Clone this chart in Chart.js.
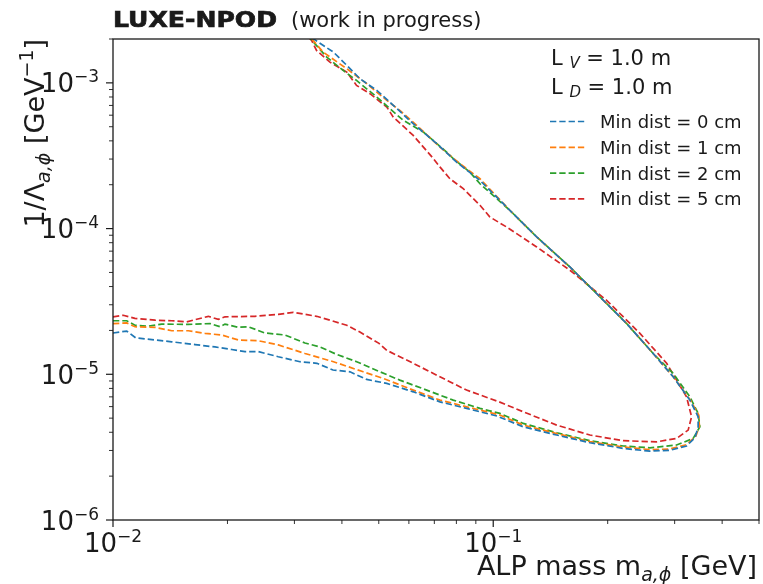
<!DOCTYPE html>
<html>
<head>
<meta charset="utf-8">
<script src="https://cdn.jsdelivr.net/npm/chart.js@4.4.1/dist/chart.umd.min.js"></script>
<style>
  html, body { margin: 0; padding: 0; background: #fff; }
  #chartCanvas { display: block; }
</style>
</head>
<body>
<canvas id="chartCanvas" width="763" height="584"></canvas>
<script>
// contour curves: lower branch left->right, then upper branch back to the top edge
const massD0 = [0.0100, 0.01087, 0.01147, 0.01427, 0.01643, 0.01854, 0.02052, 0.02224, 0.02411, 0.02721, 0.03103, 0.03439, 0.03789, 0.04201, 0.04647, 0.05246, 0.06162, 0.07242, 0.08511, 0.1023, 0.1199, 0.1468, 0.1796, 0.2197, 0.2582, 0.2914, 0.3224, 0.3391, 0.3459, 0.3459, 0.3290, 0.2974, 0.2634, 0.2243, 0.1908, 0.1591, 0.1301, 0.1106, 0.0923, 0.0801, 0.0710, 0.0616, 0.0546, 0.0494, 0.0446, 0.0412, 0.0380, 0.0336, 0.0310];
const couplingD0 = [1.92e-5, 1.98e-5, 1.78e-5, 1.67e-5, 1.60e-5, 1.54e-5, 1.48e-5, 1.43e-5, 1.43e-5, 1.32e-5, 1.22e-5, 1.19e-5, 1.07e-5, 1.04e-5, 9.22e-6, 8.66e-6, 7.58e-6, 6.47e-6, 5.83e-6, 5.17e-6, 4.36e-6, 3.83e-6, 3.39e-6, 3.10e-6, 2.97e-6, 3.01e-6, 3.22e-6, 3.67e-6, 4.34e-6, 5.11e-6, 6.65e-6, 9.61e-6, 1.39e-5, 2.23e-5, 3.40e-5, 5.45e-5, 8.76e-5, 1.335e-4, 2.14e-4, 2.86e-4, 3.83e-4, 5.25e-4, 7.01e-4, 8.88e-4, 1.068e-3, 1.318e-3, 1.625e-3, 2.01e-3, 2.48e-3];

const massD1 = [0.0100, 0.01087, 0.01142, 0.01290, 0.01427, 0.01578, 0.01746, 0.01931, 0.02136, 0.02411, 0.02721, 0.03198, 0.0380, 0.04551, 0.05137, 0.06162, 0.07242, 0.08511, 0.1041, 0.1199, 0.1468, 0.1796, 0.2197, 0.2582, 0.2914, 0.3224, 0.3412, 0.3485, 0.3470, 0.3300, 0.2974, 0.2634, 0.2243, 0.1908, 0.1591, 0.1301, 0.1106, 0.0923, 0.0817, 0.0724, 0.0629, 0.0568, 0.0525, 0.0465, 0.0412, 0.0357, 0.0333, 0.0307];
const couplingD1 = [2.23e-5, 2.25e-5, 2.12e-5, 2.10e-5, 1.99e-5, 1.99e-5, 1.91e-5, 1.86e-5, 1.72e-5, 1.70e-5, 1.59e-5, 1.39e-5, 1.22e-5, 1.04e-5, 9.37e-6, 7.79e-6, 6.65e-6, 5.98e-6, 5.25e-6, 4.48e-6, 3.92e-6, 3.45e-6, 3.17e-6, 3.04e-6, 3.07e-6, 3.29e-6, 3.77e-6, 4.41e-6, 5.25e-6, 6.65e-6, 9.61e-6, 1.39e-5, 2.23e-5, 3.40e-5, 5.45e-5, 8.76e-5, 1.335e-4, 2.20e-4, 2.79e-4, 3.63e-4, 5.11e-4, 6.47e-4, 7.58e-4, 9.87e-4, 1.25e-3, 1.625e-3, 2.01e-3, 2.48e-3];

const massD2 = [0.0100, 0.01087, 0.01142, 0.01238, 0.01343, 0.01578, 0.01799, 0.01911, 0.01970, 0.02136, 0.02269, 0.02510, 0.02833, 0.03198, 0.0350, 0.03874, 0.04374, 0.05036, 0.0568, 0.06682, 0.07847, 0.0923, 0.1041, 0.1199, 0.1468, 0.1796, 0.2197, 0.2582, 0.3036, 0.3356, 0.3495, 0.3459, 0.3290, 0.2974, 0.2634, 0.2243, 0.1908, 0.1591, 0.1301, 0.1106, 0.0923, 0.0868, 0.0785, 0.0754, 0.0655, 0.0580, 0.0535, 0.0494, 0.0437, 0.0403, 0.0365, 0.0330, 0.0305];
const couplingD2 = [2.33e-5, 2.33e-5, 2.17e-5, 2.14e-5, 2.21e-5, 2.20e-5, 2.23e-5, 2.12e-5, 2.21e-5, 2.10e-5, 2.12e-5, 1.92e-5, 1.86e-5, 1.64e-5, 1.54e-5, 1.37e-5, 1.22e-5, 1.04e-5, 9.12e-6, 7.79e-6, 6.65e-6, 5.83e-6, 5.39e-6, 4.60e-6, 3.97e-6, 3.50e-6, 3.22e-6, 3.13e-6, 3.27e-6, 3.63e-6, 4.36e-6, 5.39e-6, 7.00e-6, 1.013e-5, 1.39e-5, 2.23e-5, 3.40e-5, 5.45e-5, 8.76e-5, 1.335e-4, 2.03e-4, 2.44e-4, 3.02e-4, 3.35e-4, 4.60e-4, 5.53e-4, 6.65e-4, 7.99e-4, 1.039e-3, 1.217e-3, 1.50e-3, 2.02e-3, 2.48e-3];

const massD5 = [0.0100, 0.01064, 0.01142, 0.01290, 0.01427, 0.01563, 0.01781, 0.01892, 0.01970, 0.02362, 0.02721, 0.02979, 0.03432, 0.03721, 0.0412, 0.0446, 0.05007, 0.0525, 0.0616, 0.0724, 0.0851, 0.1041, 0.1199, 0.1468, 0.1796, 0.2197, 0.2690, 0.3036, 0.3256, 0.3324, 0.3224, 0.3036, 0.2858, 0.2431, 0.1987, 0.1591, 0.1301, 0.1084, 0.0980, 0.0923, 0.0834, 0.0769, 0.0724, 0.0696, 0.0616, 0.0546, 0.0525, 0.0474, 0.0437, 0.0412, 0.0372, 0.0343, 0.0333, 0.0310];
const couplingD5 = [2.48e-5, 2.54e-5, 2.42e-5, 2.35e-5, 2.33e-5, 2.29e-5, 2.50e-5, 2.38e-5, 2.48e-5, 2.50e-5, 2.58e-5, 2.66e-5, 2.50e-5, 2.35e-5, 2.17e-5, 1.95e-5, 1.63e-5, 1.46e-5, 1.19e-5, 9.61e-6, 7.79e-6, 6.44e-6, 5.53e-6, 4.48e-6, 3.83e-6, 3.50e-6, 3.44e-6, 3.63e-6, 4.14e-6, 5.11e-6, 7.00e-6, 9.12e-6, 1.19e-5, 1.91e-5, 3.22e-5, 5.18e-5, 7.48e-5, 1.026e-4, 1.20e-4, 1.445e-4, 1.88e-4, 2.20e-4, 2.65e-4, 3.02e-4, 4.36e-4, 5.82e-4, 6.82e-4, 8.43e-4, 9.61e-4, 1.185e-3, 1.388e-3, 1.669e-3, 1.955e-3, 2.36e-3];

const seriesLabels = ["Min dist = 0 cm", "Min dist = 1 cm", "Min dist = 2 cm", "Min dist = 5 cm"];
const seriesColors = ["#1f77b4", "#ff7f0e", "#2ca02c", "#d62728"];

const xMajorTicks = [0.01, 0.1];
const xMinorTicks = [0.02, 0.03, 0.04, 0.05, 0.06, 0.07, 0.08, 0.09, 0.2, 0.3, 0.4, 0.5];
const xTickExponents = ["\u22122", "\u22121"];
const yMajorTicks = [1e-6, 1e-5, 1e-4, 1e-3];
const yMinorTicks = [2e-6, 3e-6, 4e-6, 5e-6, 6e-6, 7e-6, 8e-6, 9e-6, 2e-5, 3e-5, 4e-5, 5e-5, 6e-5, 7e-5, 8e-5, 9e-5, 2e-4, 3e-4, 4e-4, 5e-4, 6e-4, 7e-4, 8e-4, 9e-4, 2e-3];
const yTickExponents = ["\u22126", "\u22125", "\u22124", "\u22123"];

const FONT = '"DejaVu Sans", sans-serif';
const INK = "#1a1a1a";
const DASH = [6.3, 3];

function toPoints(mass, coupling) {
  return mass.map((m, i) => ({ x: m, y: coupling[i] }));
}

function runsWidth(ctx, runs) {
  let w = 0;
  for (const r of runs) {
    ctx.font = r.font;
    w += ctx.measureText(r.text).width;
  }
  return w;
}

function drawRuns(ctx, runs, x, y) {
  let cx = x;
  for (const r of runs) {
    ctx.font = r.font;
    ctx.fillText(r.text, cx, y + (r.dy || 0));
    cx += ctx.measureText(r.text).width;
  }
}

function powerRuns(exp) {
  return [
    { text: "10", font: "26px " + FONT },
    { text: exp, font: "17px " + FONT, dy: -10 },
  ];
}

const decorations = {
  id: "decorations",
  afterDraw(chart) {
    const ctx = chart.ctx;
    const area = chart.chartArea;
    const xs = chart.scales.x;
    const ys = chart.scales.y;
    ctx.save();
    ctx.fillStyle = INK;
    ctx.strokeStyle = INK;
    ctx.textBaseline = "alphabetic";

    // frame
    ctx.lineWidth = 1.3;
    ctx.strokeRect(area.left, area.top, area.right - area.left, area.bottom - area.top);

    // ticks
    const tick = (x1, y1, x2, y2, w) => {
      ctx.lineWidth = w;
      ctx.beginPath();
      ctx.moveTo(x1, y1);
      ctx.lineTo(x2, y2);
      ctx.stroke();
    };
    xMajorTicks.forEach((v) => { const p = xs.getPixelForValue(v); tick(p, area.bottom, p, area.bottom + 7, 1.2); });
    xMinorTicks.forEach((v) => { const p = xs.getPixelForValue(v); tick(p, area.bottom, p, area.bottom + 4, 0.9); });
    yMajorTicks.forEach((v) => { const p = ys.getPixelForValue(v); tick(area.left, p, area.left - 7, p, 1.2); });
    yMinorTicks.forEach((v) => { const p = ys.getPixelForValue(v); tick(area.left, p, area.left - 4, p, 0.9); });

    // tick labels
    xMajorTicks.forEach((v, i) => {
      const runs = powerRuns(xTickExponents[i]);
      const w = runsWidth(ctx, runs);
      drawRuns(ctx, runs, xs.getPixelForValue(v) - w / 2, area.bottom + 32);
    });
    yMajorTicks.forEach((v, i) => {
      const runs = powerRuns(yTickExponents[i]);
      const w = runsWidth(ctx, runs);
      drawRuns(ctx, runs, area.left - 14 - w, ys.getPixelForValue(v) + 9.5);
    });

    // x axis label, right aligned
    const xLabel = [
      { text: "ALP mass m", font: "27px " + FONT },
      { text: "a,\u03d5", font: "italic 19px " + FONT, dy: 6 },
      { text: " [GeV]", font: "27px " + FONT },
    ];
    drawRuns(ctx, xLabel, area.right - 2 - runsWidth(ctx, xLabel), 575);

    // y axis label, top aligned
    const yLabel = [
      { text: "1/\u039b", font: "27px " + FONT },
      { text: "a,\u03d5", font: "italic 19px " + FONT, dy: 6 },
      { text: " [GeV", font: "27px " + FONT },
      { text: "\u22121", font: "19px " + FONT, dy: -11 },
      { text: "]", font: "27px " + FONT },
    ];
    ctx.save();
    ctx.translate(44, area.top);
    ctx.rotate(-Math.PI / 2);
    drawRuns(ctx, yLabel, -runsWidth(ctx, yLabel), 0);
    ctx.restore();

    // title
    ctx.font = "bold 22px " + FONT;
    const tw = ctx.measureText("LUXE-NPOD").width;
    ctx.save();
    ctx.translate(113, 27);
    ctx.scale(164 / tw, 1);
    ctx.lineWidth = 0.7;
    ctx.fillText("LUXE-NPOD", 0, 0);
    ctx.strokeText("LUXE-NPOD", 0, 0);
    ctx.restore();
    ctx.font = "21px " + FONT;
    ctx.fillText("(work in progress)", 291, 27);

    // legend
    drawRuns(ctx, [
      { text: "L ", font: "21px " + FONT },
      { text: "V", font: "italic 15px " + FONT, dy: 3 },
      { text: " = 1.0 m", font: "21px " + FONT },
    ], 551, 65);
    drawRuns(ctx, [
      { text: "L ", font: "21px " + FONT },
      { text: "D", font: "italic 15px " + FONT, dy: 3 },
      { text: " = 1.0 m", font: "21px " + FONT },
    ], 551, 94);
    chart.data.datasets.forEach((ds, i) => {
      const cy = 121.5 + i * 25.8;
      ctx.strokeStyle = ds.borderColor;
      ctx.lineWidth = 1.7;
      ctx.setLineDash(DASH);
      ctx.beginPath();
      ctx.moveTo(550, cy);
      ctx.lineTo(586, cy);
      ctx.stroke();
      ctx.setLineDash([]);
      ctx.fillStyle = INK;
      ctx.font = "18px " + FONT;
      ctx.fillText(ds.label, 600, cy + 6.5);
    });
    ctx.restore();
  },
};

const curves = [
  [massD0, couplingD0],
  [massD1, couplingD1],
  [massD2, couplingD2],
  [massD5, couplingD5],
];

const ctx = document.getElementById("chartCanvas").getContext("2d");
const chart = new Chart(ctx, {
  type: "scatter",
  data: {
    datasets: curves.map(([m, c], i) => ({
      label: seriesLabels[i],
      data: toPoints(m, c),
      showLine: true,
      borderColor: seriesColors[i],
      backgroundColor: seriesColors[i],
      borderWidth: 1.7,
      borderDash: DASH,
      pointRadius: 0,
      tension: 0,
      fill: false,
    })),
  },
  options: {
    responsive: false,
    animation: false,
    devicePixelRatio: 1,
    layout: { padding: { left: 113, top: 39, right: 4, bottom: 64 } },
    scales: {
      x: { type: "logarithmic", min: 0.01, max: 0.5, display: false },
      y: { type: "logarithmic", min: 1e-6, max: 2e-3, display: false },
    },
    plugins: {
      legend: { display: false },
      tooltip: { enabled: false },
    },
  },
  plugins: [decorations],
});
</script>
</body>
</html>
